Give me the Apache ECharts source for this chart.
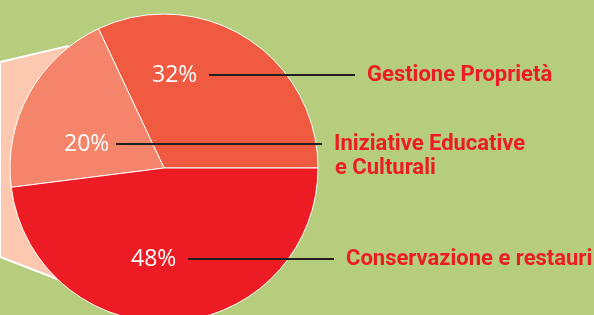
<!DOCTYPE html>
<html>
<head>
<meta charset="utf-8">
<script src="https://cdn.jsdelivr.net/npm/echarts@6/dist/echarts.min.js"></script>
<style>
html,body{margin:0;padding:0;background:#b5cd7d;}
#chart{width:594px;height:315px;}
</style>
</head>
<body>
<div id="chart"></div>
<script>
var categories = ['Gestione Proprietà', 'Iniziative Educative\ne Culturali', 'Conservazione e restauri'];
var values = [32, 20, 48];
var colors = ['#f05a40', '#f4846a', '#ed1c24'];

// where each label sits (left of the percent, leader line height), leader gap and length
var labelX = [152, 64, 131];
var labelY = [75, 144, 259];
var leaderGap = [13, 8, 13];
var leaderLen = [146, 206, 146];

var nameFont = "Roboto, sans-serif";

function labelText(i) {
	var lines = categories[i].split('\n');
	var s = '{p|' + values[i] + '%}{a' + i + '|}{l' + i + '|}{g|}{n|' + lines[0] + '}';
	for (var k = 1; k < lines.length; k++) {
		s += '\n{s' + i + '|}{n|' + lines[k] + '}';
	}
	return s;
}

var rich = {
	p: {color: '#fff', fontFamily: "'Open Sans', sans-serif", fontSize: 23, lineHeight: 24, width: 44},
	g: {width: 12, height: 2},
	n: {color: '#ed1c24', fontFamily: nameFont, fontWeight: 'bold', fontSize: 22, lineHeight: 24}
};
for (var i = 0; i < values.length; i++) {
	rich['a' + i] = {width: leaderGap[i], height: 2};
	rich['l' + i] = {width: leaderLen[i], height: 2, backgroundColor: '#231f20'};
	rich['s' + i] = {width: 271, height: 2};
}

var data = [];
for (var i = 0; i < values.length; i++) {
	data.push({
		name: categories[i],
		value: values[i],
		itemStyle: {color: colors[i]}
	});
}

var option = {
	backgroundColor: '#b5cd7d',
	animation: false,
	graphic: [{
		type: 'polygon',
		z: 0,
		shape: {points: [[0, 62], [68, 46], [164, 168], [60, 280], [0, 257]]},
		style: {fill: '#fcc9b0', stroke: '#fff', lineWidth: 2}
	}],
	series: [{
		type: 'pie',
		z: 2,
		center: [164, 168],
		radius: 154,
		startAngle: 0,
		clockwise: false,
		silent: true,
		itemStyle: {borderColor: '#fff', borderWidth: 1},
		label: {
			show: true,
			position: 'inside',
			formatter: function (p) { return labelText(p.dataIndex); },
			rich: rich
		},
		labelLine: {show: false},
		labelLayout: function (p) {
			var i = p.dataIndex;
			return {
				x: labelX[i],
				y: labelY[i] - 12,
				align: 'left',
				verticalAlign: 'top'
			};
		},
		data: data
	}]
};

var myChart = echarts.init(document.getElementById('chart'));
myChart.setOption(option);
</script>
</body>
</html>
